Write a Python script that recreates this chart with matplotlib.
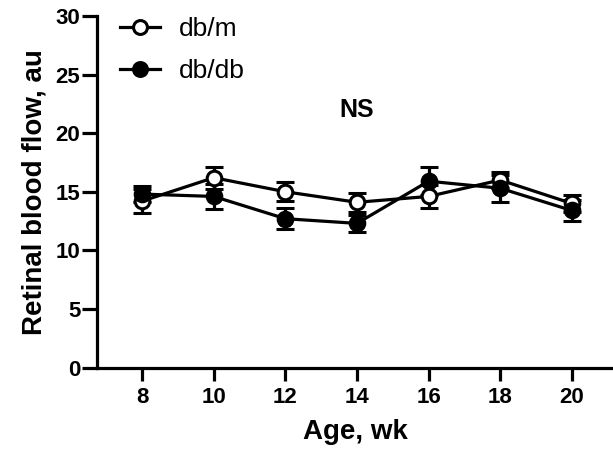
import matplotlib
matplotlib.use("Agg")
import matplotlib.pyplot as plt
from matplotlib.lines import Line2D

plt.rcParams["font.family"] = ["Liberation Sans", "DejaVu Sans"]

weeks = [8, 10, 12, 14, 16, 18, 20]
dbm_mean = [14.2, 16.2, 15.0, 14.1, 14.6, 16.0, 14.0]
dbm_err = [1.0, 0.95, 0.8, 0.8, 1.0, 0.7, 0.7]
dbdb_mean = [14.8, 14.6, 12.7, 12.3, 15.9, 15.3, 13.4]
dbdb_err = [0.65, 1.05, 0.9, 0.7, 1.2, 1.15, 0.9]

fig = plt.figure(figsize=(6.13, 4.55), dpi=100)
ax = fig.add_axes([97 / 613, 1 - 367.5 / 455, 1 - 97 / 613, (367.5 - 16) / 455])

lw = 2.3
ax.errorbar(weeks, dbm_mean, yerr=dbm_err, fmt="-o", color="black",
            mfc="white", mec="black", mew=2.2, ms=10.5, lw=lw,
            elinewidth=lw, capsize=6.5, capthick=lw, zorder=3)
ax.errorbar(weeks, dbdb_mean, yerr=dbdb_err, fmt="-o", color="black",
            mfc="black", mec="black", mew=2.2, ms=10.5, lw=lw,
            elinewidth=lw, capsize=6.5, capthick=lw, zorder=3)

ax.set_xlim(6.74, 21.15)
ax.set_ylim(0, 30)
ax.set_xticks(weeks)
ax.set_yticks([0, 5, 10, 15, 20, 25, 30])

for s in ["top", "right"]:
    ax.spines[s].set_visible(False)
for s in ["left", "bottom"]:
    ax.spines[s].set_linewidth(2.3)

ax.tick_params(axis="y", length=11, width=2.3, labelsize=16, pad=1)
ax.tick_params(axis="x", length=9, width=2.3, labelsize=16, pad=5)
for lab in ax.get_xticklabels() + ax.get_yticklabels():
    lab.set_fontweight("bold")

ax.set_xlabel("Age, wk", fontsize=20, fontweight="bold", labelpad=8)
ax.set_ylabel("Retinal blood flow, au", fontsize=20, fontweight="bold", labelpad=6)

ax.text(14, 22.0, "NS", fontsize=18, fontweight="bold", ha="center", va="center")

handles = [
    Line2D([], [], color="black", lw=lw, marker="o", ms=10, mfc="white", mec="black", mew=2.2),
    Line2D([], [], color="black", lw=lw, marker="o", ms=10, mfc="black", mec="black", mew=2.2),
]
ax.legend(handles, ["db/m", "db/db"], loc="upper left",
          bbox_to_anchor=(0.024, 1.027), borderaxespad=0, frameon=False,
          fontsize=19, handlelength=1.5, labelspacing=0.68, handletextpad=0.75)

fig.savefig("out.png", dpi=100)
